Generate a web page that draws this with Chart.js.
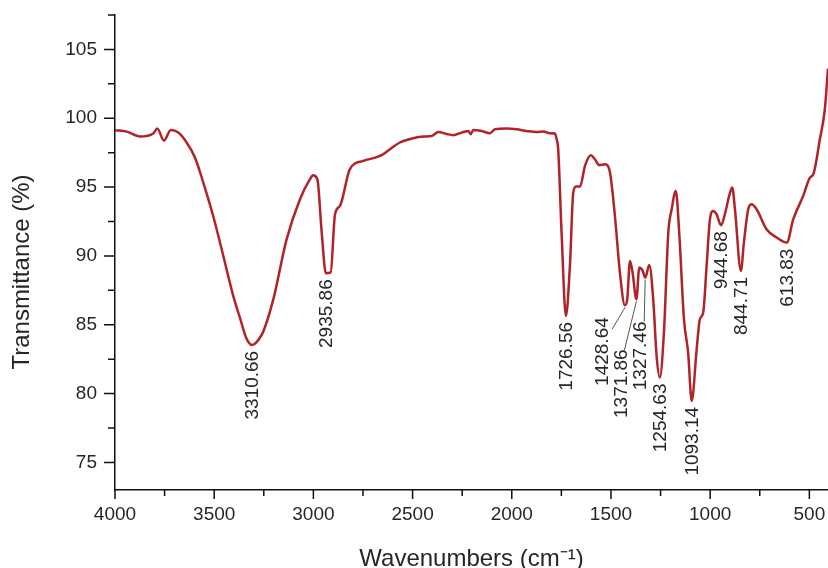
<!DOCTYPE html>
<html>
<head>
<meta charset="utf-8">
<script src="https://cdn.jsdelivr.net/npm/chart.js@4.4.1/dist/chart.umd.min.js"></script>
<style>
  html, body { margin: 0; padding: 0; background: #fff; }
  #wrap { width: 828px; height: 568px; }
</style>
</head>
<body>
<div id="wrap"><canvas id="ir"></canvas></div>
<script>
// Spectre IR : nombres d'onde (cm-1) et transmittance (%)
const wavenumbers = [
  4000, 3941, 3874, 3807, 3787, 3753, 3719, 3681, 3639, 3597, 3555, 3505, 3454, 3404,
  3370, 3340, 3325, 3311, 3295, 3275, 3253, 3202, 3135, 3068, 3020, 3001, 2980, 2958, 2937, 2913,
  2891, 2866, 2816, 2749, 2664, 2614, 2564, 2497, 2446, 2404, 2370, 2328, 2295, 2253,
  2219, 2207, 2194, 2152, 2110, 2085, 2026, 1976, 1925, 1875, 1841, 1808, 1782, 1774,
  1766, 1749, 1727, 1707, 1690, 1676, 1656, 1631, 1601, 1581, 1559, 1530, 1505, 1480,
  1455, 1430, 1418, 1404, 1391, 1372, 1357, 1340, 1327, 1307, 1287, 1270, 1254, 1233,
  1211, 1194, 1173, 1156, 1132, 1111, 1093, 1068, 1052, 1035, 1018, 1001, 985, 968,
  945, 926, 904, 889, 875, 845, 830, 808, 791, 766, 716, 665, 614, 581, 531, 497,
  480, 447, 422, 406
];
const transmittance = [
  99.13, 99.03, 98.67, 98.89, 99.25, 98.38, 99.15, 98.96, 98.24, 97.15, 95.33, 92.9, 90.0, 87.1,
  85.5, 84.1, 83.7, 83.54, 83.62, 83.95, 84.5, 86.85, 91.2, 94.1, 95.5, 95.86, 95.57, 91.7, 88.74, 88.8,
  93.03, 93.63, 96.3, 96.9, 97.26, 97.75, 98.24, 98.55, 98.67, 98.71, 99.0, 98.86, 98.77, 98.96,
  99.08, 98.84, 99.15, 99.08, 98.91, 99.2, 99.25, 99.2, 99.08, 99.0, 99.03, 98.91, 98.89, 98.47,
  97.75, 91.7, 85.64, 89.27, 94.6, 95.04, 95.04, 96.54, 97.31, 97.02, 96.6, 96.66, 96.06, 92.9,
  88.8, 86.42, 86.85, 89.64, 88.8, 86.85, 89.16, 88.91, 88.43, 89.35, 86.85, 82.74, 81.17, 84.44,
  91.7, 93.39, 94.72, 91.7, 85.4, 82.98, 79.47, 83.22, 85.4, 85.89, 89.27, 92.67, 93.27, 93.03,
  92.23, 93.03, 94.36, 94.97, 93.39, 88.91, 90.97, 93.39, 93.75, 93.39, 91.94, 91.34, 90.97, 92.67, 94.36, 95.69,
  95.93, 98.47, 100.65, 103.6
];

// Graduations
const xMajorTicks = [4000, 3500, 3000, 2500, 2000, 1500, 1000, 500];
const xMinorTicks = [3750, 3250, 2750, 2250, 1750, 1250, 750];
const yMajorTicks = [75, 80, 85, 90, 95, 100, 105];
const yMinorTicks = [77.5, 82.5, 87.5, 92.5, 97.5, 102.5, 107.5];

// Pics annotés
const peakWavenumbers = [3310.66, 2935.86, 1726.56, 1428.64, 1371.86, 1327.46, 1254.63, 1093.14, 944.68, 844.71, 613.83];
const peakLabels = ['3310.66', '2935.86', '1726.56', '1428.64', '1371.86', '1327.46', '1254.63', '1093.14', '944.68', '844.71', '613.83'];

const FONT = '"Liberation Sans", Arial, sans-serif';
const INK = '#262626';
const LINE_RED = '#b02329';

// Décalages des étiquettes qui ont un trait de rappel
const LABEL_SHIFT = {
  '1428.64': { dx: -22, dy: 12, lead: [9, 12] },
  '1371.86': { dx: -15, dy: 50, lead: [3, 1] },
  '1327.46': { dx: -4, dy: 44, lead: [3, 0] },
};

// -------------------------------------------------------
// Plugin : petites graduations, titre Y et étiquettes des pics
// -------------------------------------------------------
const spectrumDecor = {
  id: 'spectrumDecor',
  afterDatasetsDraw(chart) {
    const { ctx, chartArea } = chart;
    const xs = chart.scales.x;
    const ys = chart.scales.y;

    ctx.save();
    ctx.strokeStyle = '#111';
    ctx.lineWidth = 1.5;
    ctx.beginPath();
    xMajorTicks.forEach(v => { const p = xs.getPixelForValue(v); ctx.moveTo(p, chartArea.bottom); ctx.lineTo(p, chartArea.bottom + 9); });
    xMinorTicks.forEach(v => { const p = xs.getPixelForValue(v); ctx.moveTo(p, chartArea.bottom); ctx.lineTo(p, chartArea.bottom + 6); });
    yMajorTicks.forEach(v => { const p = ys.getPixelForValue(v); ctx.moveTo(chartArea.left, p); ctx.lineTo(chartArea.left - 11, p); });
    yMinorTicks.forEach(v => { const p = ys.getPixelForValue(v); ctx.moveTo(chartArea.left, p); ctx.lineTo(chartArea.left - 7, p); });
    ctx.stroke();

    // titre de l'axe Y
    ctx.fillStyle = INK;
    ctx.font = '24px ' + FONT;
    ctx.translate(22, 272);
    ctx.rotate(-Math.PI / 2);
    ctx.textAlign = 'center';
    ctx.textBaseline = 'middle';
    ctx.fillText('Transmittance (%)', 0, 0);
    ctx.restore();

    // étiquettes des pics, verticales, sous chaque minimum
    const pts = chart.getDatasetMeta(0).data;
    ctx.save();
    ctx.font = '19px ' + FONT;
    ctx.fillStyle = INK;
    peakWavenumbers.forEach((wn, i) => {
      let best = 0;
      wavenumbers.forEach((w, j) => { if (Math.abs(w - wn) < Math.abs(wavenumbers[best] - wn)) best = j; });
      const px = xs.getPixelForValue(wn);
      const py = pts[best].y;
      const s = LABEL_SHIFT[peakLabels[i]] || { dx: 1, dy: 6 };
      const tx = px + s.dx;
      const ty = py + s.dy;
      if (s.lead) {
        ctx.strokeStyle = '#555';
        ctx.lineWidth = 1;
        ctx.beginPath();
        ctx.moveTo(tx + s.lead[0], ty + s.lead[1]);
        ctx.lineTo(px, py + 2);
        ctx.stroke();
      }
      ctx.save();
      ctx.translate(tx, ty);
      ctx.rotate(-Math.PI / 2);
      ctx.textAlign = 'right';
      ctx.textBaseline = 'middle';
      ctx.fillText(peakLabels[i], 0, 0);
      ctx.restore();
    });
    ctx.restore();
  },
};

new Chart(document.getElementById('ir'), {
  type: 'line',
  data: {
    datasets: [{
      data: wavenumbers.map((w, i) => ({ x: w, y: transmittance[i] })),
      borderColor: LINE_RED,
      borderWidth: 2.5,
      pointRadius: 0,
      cubicInterpolationMode: 'monotone',
      fill: false,
    }],
  },
  options: {
    responsive: true,
    maintainAspectRatio: false,
    animation: false,
    layout: { padding: { top: 15, left: 0, right: 0, bottom: 0 } },
    plugins: { legend: { display: false }, tooltip: { enabled: false } },
    scales: {
      x: {
        type: 'linear',
        reverse: true,
        min: 406,
        max: 4000,
        afterBuildTicks: s => { s.ticks = xMajorTicks.map(v => ({ value: v })); },
        afterFit: s => { s.height = 78; s.paddingLeft = 0; s.paddingRight = 0; },
        grid: { display: false, drawTicks: false },
        border: { display: true, color: '#111', width: 1.5 },
        ticks: {
          autoSkip: false, maxRotation: 0, padding: 13,
          color: INK, font: { family: FONT, size: 19 },
          callback: v => String(v),
        },
        title: {
          display: true, text: 'Wavenumbers (cm⁻¹)', color: INK,
          font: { family: FONT, size: 24, lineHeight: 1 }, padding: { top: 0, bottom: -3 },
        },
      },
      y: {
        min: 73,
        max: 107.5,
        afterBuildTicks: s => { s.ticks = yMajorTicks.map(v => ({ value: v })); },
        afterFit: s => { s.width = 115; s.paddingTop = 0; s.paddingBottom = 0; },
        grid: { display: false, drawTicks: false },
        border: { display: true, color: '#111', width: 1.5 },
        ticks: {
          padding: 18, color: INK, font: { family: FONT, size: 19 },
          callback: v => String(v),
        },
      },
    },
  },
  plugins: [spectrumDecor],
});
</script>
</body>
</html>
